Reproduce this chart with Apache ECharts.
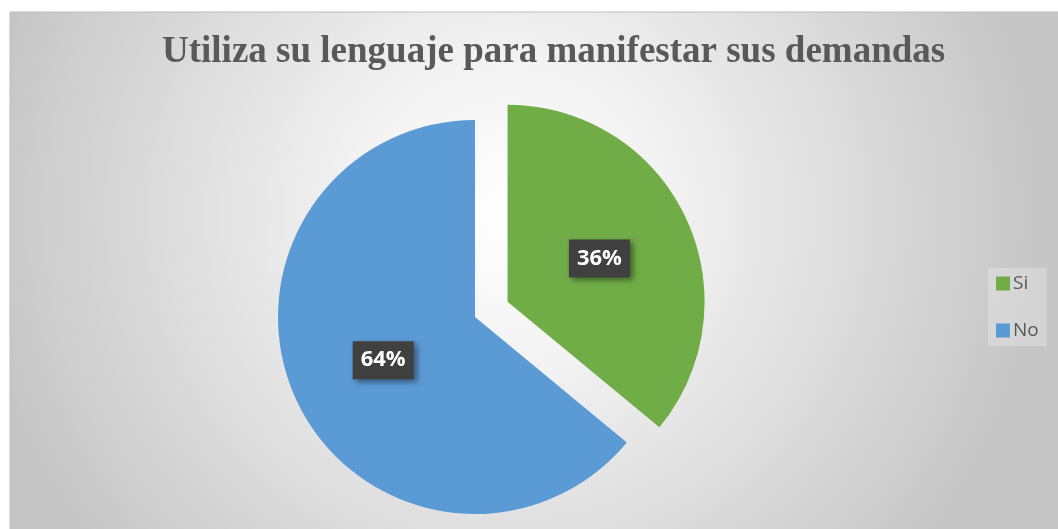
<!DOCTYPE html>
<html>
<head>
<meta charset="utf-8">
<script src="https://cdn.jsdelivr.net/npm/echarts@6/dist/echarts.min.js"></script>
<style>
  html, body { margin: 0; padding: 0; background: #fff; }
  #main { width: 1058px; height: 529px; }
</style>
</head>
<body>
<div id="main"></div>
<script>
// 数据
const titleText = 'Utiliza su lenguaje para manifestar sus demandas';
const categories = ['Si', 'No'];
const values = [36, 64];
const colors = ['#70AD47', '#5B9BD5'];

const chart = echarts.init(document.getElementById('main'));

const pieData = categories.map((name, i) => ({
  name: name,
  value: values[i],
  selected: i === 0,
  itemStyle: { color: colors[i] }
}));

const option = {
  animation: false,
  graphic: [
    {
      type: 'rect',
      z: -10,
      shape: { x: 10, y: 12, width: 1060, height: 530 },
      style: {
        fill: new echarts.graphic.RadialGradient(0.47, 0.38, 1.0, [
          { offset: 0, color: '#ffffff' },
          { offset: 0.3, color: '#f2f2f2' },
          { offset: 1, color: '#c6c6c6' }
        ]),
        stroke: '#bdbdbd',
        lineWidth: 1
      }
    }
  ],
  title: {
    text: titleText,
    left: 157,
    top: 29,
    textStyle: {
      fontFamily: 'Liberation Serif',
      fontSize: 37,
      fontWeight: 'bold',
      color: '#595959'
    }
  },
  legend: {
    orient: 'vertical',
    left: 988,
    top: 268,
    itemWidth: 14,
    itemHeight: 14,
    itemGap: 28,
    icon: 'rect',
    padding: [6, 8],
    backgroundColor: 'rgba(255,255,255,0.25)',
    textStyle: {
      fontFamily: 'Open Sans',
      fontSize: 19,
      color: '#595959',
      padding: [0, 0, 0, -2]
    },
    data: categories
  },
  series: [
    {
      type: 'pie',
      center: [475, 317],
      radius: 197,
      startAngle: 90,
      clockwise: true,
      selectedMode: 'single',
      selectedOffset: 36,
      data: pieData,
      itemStyle: { borderWidth: 0 },
      emphasis: { disabled: true },
      label: {
        show: true,
        position: 'inside',
        formatter: '{c}%',
        fontFamily: 'Open Sans',
        fontSize: 22,
        fontWeight: 'bold',
        color: '#ffffff',
        backgroundColor: '#404040',
        padding: [9, 8, 7, 8],
        shadowColor: 'rgba(0,0,0,0.45)',
        shadowBlur: 6,
        shadowOffsetX: 3,
        shadowOffsetY: 3
      },
      labelLine: { show: false }
    }
  ]
};

chart.setOption(option);
</script>
</body>
</html>
